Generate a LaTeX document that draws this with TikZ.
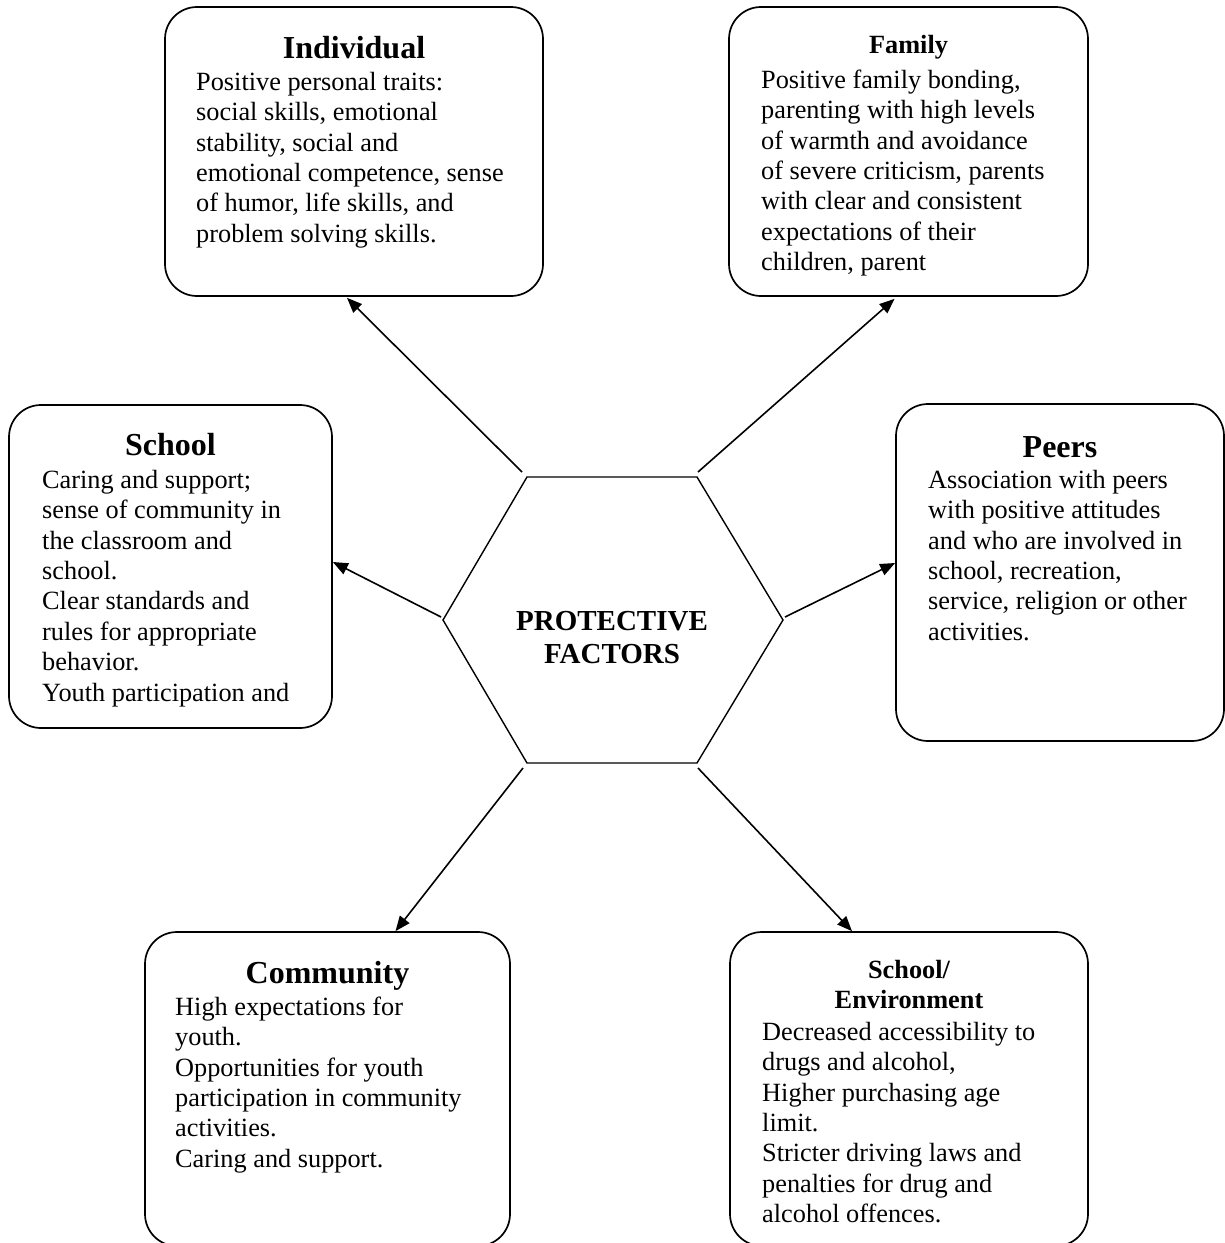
\documentclass[tikz,border=0pt]{standalone}
\usepackage{fontspec}
\setmainfont{Liberation Serif}
\usetikzlibrary{arrows.meta,calc}
\begin{document}
\begin{tikzpicture}[x=1pt,y=-1pt,
  box/.style={draw,line width=1.7pt,rounded corners=32pt,inner sep=0pt},
  ttl/.style={anchor=base,inner sep=0pt,font=\bfseries\fontsize{32}{36}\selectfont},
  ttls/.style={inner sep=0pt,align=center,font=\bfseries\fontsize{26.3}{30}\selectfont},
  body/.style={anchor=north west,inner sep=0pt,align=left,font=\fontsize{26.3}{30.4}\selectfont},
  arr/.style={line width=1.6pt,-{Triangle[length=15pt,width=12pt]}},
  hexline/.style={line width=1.4pt,line join=miter}
]
\useasboundingbox (0,0) rectangle (1225,1243);
\clip (0,0) rectangle (1225,1243);

% boxes
\node[box,minimum width=378pt,minimum height=289pt] (ind) at (354,151.5) {};
\node[box,minimum width=359pt,minimum height=289pt] (fam) at (908.5,151.5) {};
\node[box,minimum width=323pt,minimum height=323pt] (sch) at (170.5,566.5) {};
\node[box,minimum width=328pt,minimum height=337pt] (peer) at (1060,572.5) {};
\node[box,minimum width=365pt,minimum height=314pt] (com) at (327.5,1089) {};
\node[box,minimum width=358pt,minimum height=314pt] (env) at (909,1089) {};

% titles
\node[ttl] (indT) at (354,58) {Individual};
\node[ttls,anchor=base] (famT) at (908.5,53) {Family};
\node[ttl] (schT) at (170.5,455) {School};
\node[ttl] (peerT) at (1060,457) {Peers};
\node[ttl] (comT) at (327.5,983) {Community};
\node[ttls,anchor=north] (envT) at (909,958) {\rule{0pt}{20pt}School/\\Environment};

% bodies
\node[body] (indB) at (196,70) {\rule{0pt}{20pt}Positive personal traits:\\social skills, emotional\\stability, social and\\emotional competence, sense\\of humor, life skills, and\\problem solving skills.};
\node[body] (famB) at (761,68) {\rule{0pt}{20pt}Positive family bonding,\\parenting with high levels\\of warmth and avoidance\\of severe criticism, parents\\with clear and consistent\\expectations of their\\children, parent};
\node[body] (schB) at (42,468) {\rule{0pt}{20pt}Caring and support;\\sense of community in\\the classroom and\\school.\\Clear standards and\\rules for appropriate\\behavior.\\Youth participation and};
\node[body] (peerB) at (928,468) {\rule{0pt}{20pt}Association with peers\\with positive attitudes\\and who are involved in\\school, recreation,\\service, religion or other\\activities.};
\node[body] (comB) at (175,995) {\rule{0pt}{20pt}High expectations for\\youth.\\Opportunities for youth\\participation in community\\activities.\\Caring and support.};
\node[body] (envB) at (762,1020) {\rule{0pt}{20pt}Decreased accessibility to\\drugs and alcohol,\\Higher purchasing age\\limit.\\Stricter driving laws and\\penalties for drug and\\alcohol offences.};

% hexagon
\coordinate (hA) at (527,477);
\coordinate (hB) at (697,477);
\coordinate (hC) at (783,620);
\coordinate (hD) at (697,763);
\coordinate (hE) at (527,763);
\coordinate (hF) at (443,620);
\draw[hexline] (hA) -- (hB) -- (hC) -- (hD) -- (hE) -- (hF) -- cycle;
\node[inner sep=0pt,align=center,anchor=north,font=\bfseries\fontsize{29}{33}\selectfont] (hex) at (612,609) {\rule{0pt}{21pt}PROTECTIVE\\FACTORS};

% arrow start points
\coordinate (sA) at (522,472);
\coordinate (sB) at (698,472);
\coordinate (sC) at (785,617);
\coordinate (sD) at (698,768);
\coordinate (sE) at (523,768);
\coordinate (sF) at (441,617);

% arrows
\draw[arr] (sA) -- ([xshift=-7pt,yshift=-1pt]ind.south);
\draw[arr] (sB) -- ([xshift=-14pt,yshift=-2pt]fam.south);
\draw[arr] (sF) -- ([yshift=4.5pt]sch.east);
\draw[arr] (sC) -- ([yshift=9.5pt]peer.west);
\draw[arr] (sE) -- ([xshift=68pt]com.north);
\draw[arr] (sD) -- ([xshift=-57pt]env.north);
\end{tikzpicture}
\end{document}
